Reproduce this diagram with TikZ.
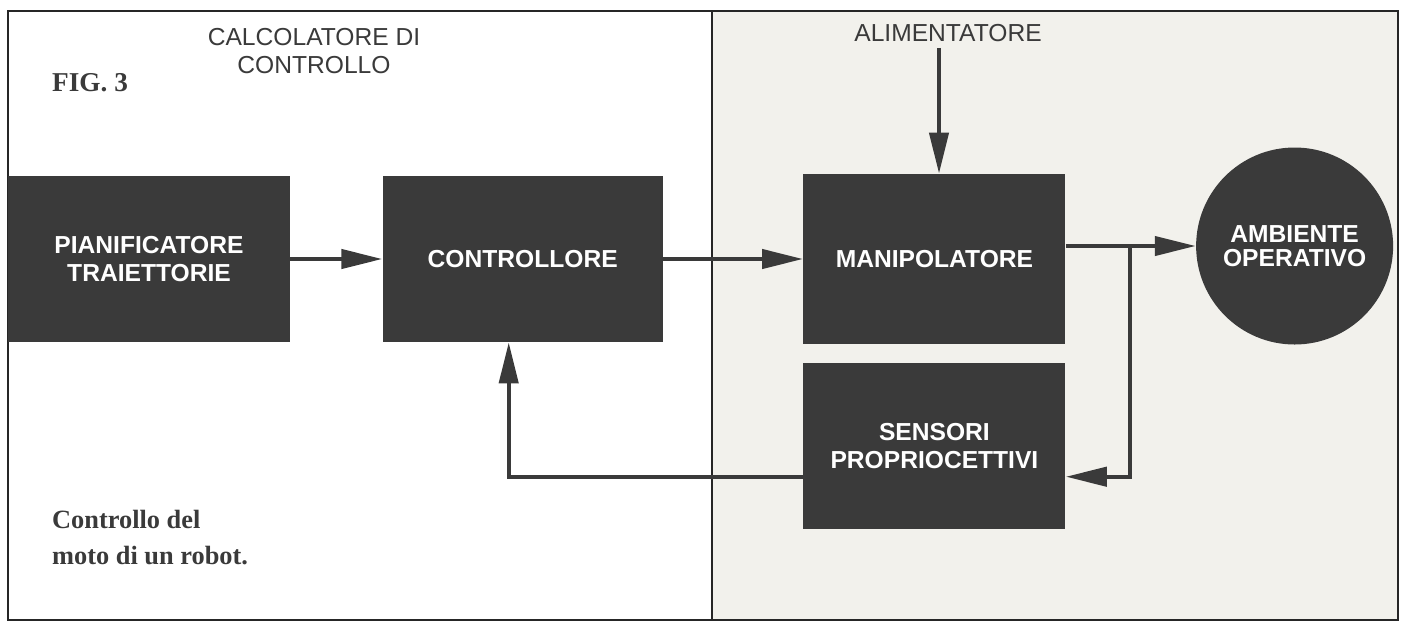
\documentclass[tikz,border=0pt]{standalone}
\usepackage{fontspec}
\setmainfont{Liberation Serif}
\setsansfont{Liberation Sans}
\usepackage{xcolor}
\usetikzlibrary{arrows.meta,positioning,calc}
\definecolor{inkgray}{RGB}{58,58,58}
\definecolor{papergray}{RGB}{242,241,236}

\begin{document}
\begin{tikzpicture}[
  font=\sffamily\fontsize{14}{16}\selectfont,
  block/.style={draw=none, fill=inkgray, text=white, font=\sffamily\bfseries\fontsize{14}{16}\selectfont,
                align=center, inner sep=0pt, minimum width=5.6cm, minimum height=3.32cm},
  arr/.style={-{Triangle[length=0.82cm,width=0.38cm]}, line width=2.4pt, inkgray},
  lbl/.style={text=inkgray, align=center, font=\sffamily\fontsize{14}{15.9}\selectfont},
  every node/.style={align=center}
]
\useasboundingbox (0,0) rectangle (28.04,-12.46);
\fill[papergray] (14.24,-0.22) rectangle (27.96,-12.4);
\draw[line width=0.8pt, black!85] (0.16,-0.22) rectangle (27.96,-12.4);
\draw[line width=0.8pt, black!85] (14.24,-0.22) -- (14.24,-12.4);

\node[block, minimum width=5.64cm] (pian) at (2.98,-5.18) {PIANIFICATORE\\TRAIETTORIE};
\node[block, right=1.84cm of pian] (ctrl) {CONTROLLORE};
\node[block, right=2.8cm of ctrl, minimum width=5.24cm, minimum height=3.4cm] (manip) {MANIPOLATORE};
\node[block, below=0.36cm of manip, minimum width=5.24cm] (sens) {SENSORI\\PROPRIOCETTIVI};
\node[block, circle, minimum width=3.94cm, right=2.6cm of manip, yshift=0.26cm,
      font=\sffamily\bfseries\fontsize{14}{13.5}\selectfont] (env) {AMBIENTE\\OPERATIVO};

\node[lbl] (calc) at (6.28,-1.02) {CALCOLATORE DI\\CONTROLLO};
\node[lbl] (alim) at (18.96,-0.66) {ALIMENTATORE};
\node[anchor=west, text=inkgray, font=\rmfamily\bfseries\fontsize{15.5}{18}\selectfont] (fig) at (0.92,-1.66) {FIG. 3};
\node[anchor=west, align=left, text=inkgray, font=\rmfamily\bfseries\fontsize{15}{20.5}\selectfont] (capt) at (0.92,-10.76) {Controllo del\\moto di un robot.};

\coordinate (tap) at ($(env.west -| manip.east)+(1.28,0)$);
\coordinate (fbin) at ($(sens.east)+(0,-0.62)$);
\coordinate (fbout) at ($(sens.west)+(0,-0.62)$);

\draw[arr] (pian) -- (ctrl);
\draw[arr] (ctrl.east) -- (ctrl.east -| manip.west);
\draw[arr] ([xshift=-0.18cm]alim.south) -- ([xshift=-0.18cm]alim.south |- manip.north);
\draw[arr] (env.west -| manip.east) -- (env.west);
\draw[arr] (tap) |- (fbin);
\draw[arr] (fbout) -| ([xshift=-0.28cm]ctrl.south);
\end{tikzpicture}
\end{document}
